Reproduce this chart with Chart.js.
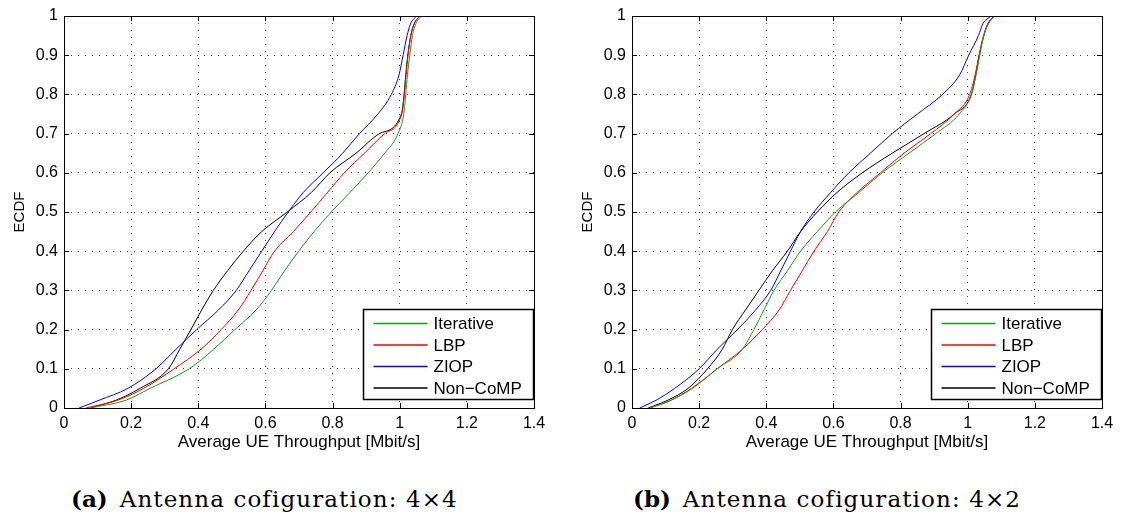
<!DOCTYPE html>
<html>
<head>
<meta charset="utf-8">
<script src="https://cdn.jsdelivr.net/npm/chart.js@4.4.1/dist/chart.umd.min.js"></script>
<style>
  body { margin: 0; background: #fff; overflow: hidden; }
  .wrap { position: relative; width: 1121px; height: 519px; }
  canvas { position: absolute; top: 0; }
  .cap { position: absolute; top: 487px; line-height: 1; font-family: "DejaVu Serif", "Liberation Serif", serif; font-size: 23px; letter-spacing: 1.1px; color: #000; white-space: nowrap; }
  .cap b { margin-right: 12px; letter-spacing: 0; }
</style>
</head>
<body>
<div class="wrap">
  <canvas id="chartA" width="555" height="453" style="left:0px"></canvas>
  <canvas id="chartB" width="553" height="453" style="left:568px"></canvas>
  <div class="cap" style="left:71px"><b>(a)</b>Antenna cofiguration: 4×4</div>
  <div class="cap" style="left:633px"><b>(b)</b>Antenna cofiguration: 4×2</div>
</div>
<script>
// ECDF levels shared by every curve, x at each level
const ecdfLevels = [0, 0.02, 0.05, 0.1, 0.15, 0.2, 0.25, 0.3, 0.35, 0.4, 0.45, 0.5, 0.55, 0.6, 0.65, 0.7, 0.75, 0.8, 0.85, 0.9, 0.95, 0.98, 1];

const seriesNames = ["Iterative", "LBP", "ZIOP", "Non\u2212CoMP"];
const seriesColors = ["#1a9a1a", "#ff0000", "#0000ff", "#000000"];

// (a) 4x4
const iterA = [0.075, 0.185, 0.256, 0.373, 0.446, 0.509, 0.572, 0.618, 0.657, 0.699, 0.745, 0.796, 0.852, 0.906, 0.955, 0.995, 1.012, 1.018, 1.023, 1.03, 1.038, 1.048, 1.065];
const lbpA = [0.065, 0.16, 0.237, 0.328, 0.408, 0.468, 0.519, 0.557, 0.592, 0.627, 0.683, 0.735, 0.785, 0.835, 0.895, 0.955, 1.006, 1.014, 1.019, 1.025, 1.033, 1.043, 1.06];
const ziopA = [0.045, 0.105, 0.19, 0.274, 0.334, 0.395, 0.46, 0.513, 0.551, 0.589, 0.627, 0.668, 0.713, 0.772, 0.83, 0.88, 0.935, 0.975, 0.998, 1.01, 1.022, 1.032, 1.05];
const noncompA = [0.08, 0.155, 0.226, 0.311, 0.345, 0.378, 0.41, 0.445, 0.487, 0.534, 0.589, 0.665, 0.737, 0.792, 0.87, 0.94, 1.005, 1.013, 1.018, 1.024, 1.033, 1.043, 1.06];

// (b) 4x2
const iterB = [0.053, 0.117, 0.18, 0.254, 0.329, 0.363, 0.393, 0.423, 0.463, 0.502, 0.552, 0.606, 0.676, 0.745, 0.825, 0.905, 0.975, 1.011, 1.025, 1.036, 1.048, 1.062, 1.08];
const lbpB = [0.053, 0.117, 0.177, 0.254, 0.329, 0.388, 0.438, 0.472, 0.507, 0.542, 0.582, 0.616, 0.671, 0.74, 0.81, 0.89, 0.96, 1.006, 1.022, 1.034, 1.047, 1.06, 1.078];
const ziopB = [0.023, 0.072, 0.127, 0.20, 0.254, 0.314, 0.368, 0.413, 0.443, 0.472, 0.502, 0.542, 0.592, 0.646, 0.71, 0.775, 0.85, 0.925, 0.976, 1.003, 1.032, 1.045, 1.07];
const noncompB = [0.048, 0.107, 0.167, 0.225, 0.269, 0.299, 0.338, 0.378, 0.418, 0.463, 0.502, 0.552, 0.611, 0.686, 0.775, 0.87, 0.96, 1.011, 1.024, 1.034, 1.048, 1.06, 1.078];

const xTickLabels = ["0", "0.2", "0.4", "0.6", "0.8", "1", "1.2", "1.4"];
const yTickLabels = ["0", "0.1", "0.2", "0.3", "0.4", "0.5", "0.6", "0.7", "0.8", "0.9", "1"];

const font = "'Liberation Sans', Arial, sans-serif";

function toPoints(xs) {
  return xs.map((x, i) => ({ x: x, y: ecdfLevels[i] }));
}

// box around plot, inward tick marks and the legend inside
const framePlugin = {
  id: 'frame',
  afterDraw(chart) {
    const ctx = chart.ctx;
    const a = chart.chartArea;
    ctx.save();
    ctx.strokeStyle = '#000';
    ctx.lineWidth = 1;
    ctx.strokeRect(Math.round(a.left) + 0.5, Math.round(a.top) + 0.5, Math.round(a.right - a.left), Math.round(a.bottom - a.top));
    ctx.beginPath();
    chart.scales.x.ticks.forEach(t => {
      const px = Math.round(chart.scales.x.getPixelForValue(t.value)) + 0.5;
      ctx.moveTo(px, a.bottom); ctx.lineTo(px, a.bottom - 5);
      ctx.moveTo(px, a.top); ctx.lineTo(px, a.top + 5);
    });
    chart.scales.y.ticks.forEach(t => {
      const py = Math.round(chart.scales.y.getPixelForValue(t.value)) + 0.5;
      ctx.moveTo(a.left, py); ctx.lineTo(a.left + 5, py);
      ctx.moveTo(a.right, py); ctx.lineTo(a.right - 5, py);
    });
    ctx.stroke();

    // legend
    const bw = 170, bh = 90;
    const bx = Math.round(a.right - 1 - bw) + 0.5;
    const by = Math.round(a.bottom - 9 - bh) + 0.5;
    ctx.fillStyle = '#fff';
    ctx.fillRect(bx, by, bw, bh);
    ctx.lineWidth = 1.5;
    ctx.strokeStyle = '#000';
    ctx.strokeRect(bx, by, bw, bh);
    ctx.font = "17px " + font;
    ctx.textBaseline = 'middle';
    chart.data.datasets.forEach((ds, i) => {
      const ry = by + 14 + i * 21.5;
      ctx.strokeStyle = ds.borderColor;
      ctx.lineWidth = 1.3;
      ctx.beginPath();
      ctx.moveTo(bx + 10, ry); ctx.lineTo(bx + 64, ry);
      ctx.stroke();
      ctx.fillStyle = '#000';
      ctx.fillText(ds.label, bx + 70, ry + 1);
    });
    ctx.restore();
  }
};

function makeChart(id, seriesX, padRight) {
  new Chart(document.getElementById(id), {
    type: 'scatter',
    data: {
      datasets: seriesX.map((xs, i) => ({
        label: seriesNames[i],
        data: toPoints(xs),
        showLine: true,
        borderColor: seriesColors[i],
        backgroundColor: seriesColors[i],
        borderWidth: 1,
        pointRadius: 0,
        cubicInterpolationMode: 'monotone'
      }))
    },
    options: {
      responsive: false,
      animation: false,
      layout: { padding: { left: 11, right: padRight, top: 16, bottom: 0 } },
      plugins: { legend: { display: false }, tooltip: { enabled: false } },
      scales: {
        x: {
          type: 'linear', min: 0, max: 1.4,
          afterFit: s => { s.height = 45; },
          afterBuildTicks: s => { s.ticks = xTickLabels.map(v => ({ value: parseFloat(v) })); },
          ticks: { callback: (v, i) => xTickLabels[i], color: '#000', font: { family: font, size: 16 }, padding: 6, maxRotation: 0 },
          grid: { color: 'rgba(0,0,0,0.75)', lineWidth: 1, drawTicks: false },
          border: { display: false, dash: [1, 6] },
          title: { display: true, text: 'Average UE Throughput [Mbit/s]', color: '#000', font: { family: font, size: 17 }, padding: 0 }
        },
        y: {
          type: 'linear', min: 0, max: 1,
          afterFit: s => { s.width = 53; },
          afterBuildTicks: s => { s.ticks = yTickLabels.map(v => ({ value: parseFloat(v) })); },
          ticks: { callback: (v, i) => yTickLabels[i], color: '#000', font: { family: font, size: 16 }, padding: 6 },
          grid: { color: 'rgba(0,0,0,0.75)', lineWidth: 1, drawTicks: false },
          border: { display: false, dash: [1, 6] },
          title: { display: true, text: 'ECDF', color: '#000', font: { family: font, size: 15 }, padding: 0 }
        }
      }
    },
    plugins: [framePlugin]
  });
}

makeChart("chartA", [iterA, lbpA, ziopA, noncompA], 21);
makeChart("chartB", [iterB, lbpB, ziopB, noncompB], 19);
</script>
</body>
</html>
